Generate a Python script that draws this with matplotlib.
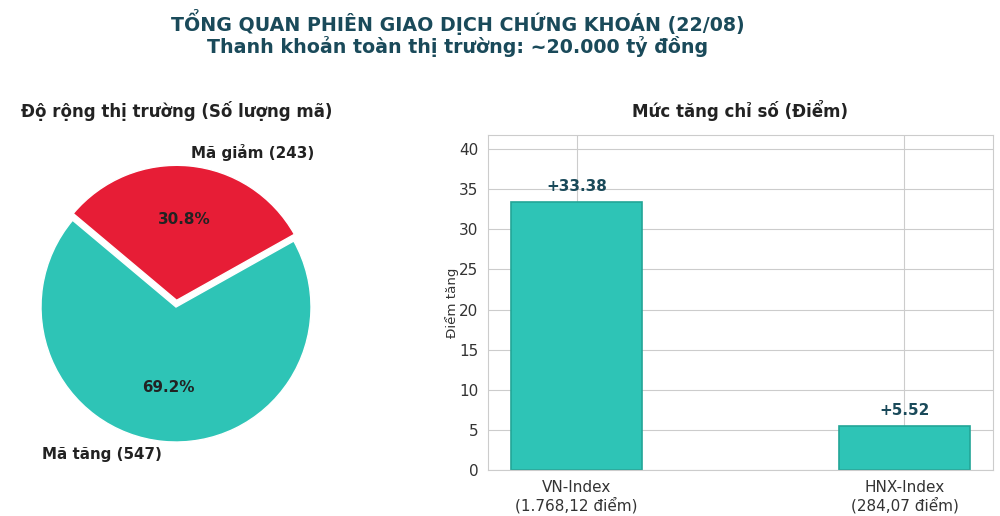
import matplotlib
matplotlib.use("Agg")
import matplotlib.pyplot as plt
import seaborn as sns

# data
breadth_labels = ["Mã tăng (547)", "Mã giảm (243)"]
breadth_counts = [547, 243]
index_names = ["VN-Index\n(1.768,12 điểm)", "HNX-Index\n(284,07 điểm)"]
index_gains = [33.38, 5.52]

TEAL = "#2EC4B6"
RED = "#E71D36"
NAVY = "#1a4a5a"

sns.set_style("whitegrid")
plt.rcParams['font.family'] = ['DejaVu Sans']

fig = plt.figure(figsize=(10, 5.16), dpi=100)

fig.text(0.458, 0.957, "TỔNG QUAN PHIÊN GIAO DỊCH CHỨNG KHOÁN (22/08)",
         ha='center', va='center', fontsize=13.7, fontweight='bold', color=NAVY)
fig.text(0.458, 0.910, "Thanh khoản toàn thị trường: ~20.000 tỷ đồng",
         ha='center', va='center', fontsize=13.7, fontweight='bold', color=NAVY)

# pie: market breadth
ax1 = fig.add_axes([0.00725, 0.078, 0.3375, 0.654])
ax1.pie(breadth_counts, labels=breadth_labels, colors=[TEAL, RED],
        explode=(0, 0.05), startangle=140, autopct='%1.1f%%',
        textprops=dict(fontsize=10.9, fontweight='bold', color='#222222'))
ax1.set_aspect('equal')
fig.text(0.177, 0.785, "Độ rộng thị trường (Số lượng mã)", ha='center', va='center',
         fontsize=12, fontweight='bold', color='#222222')

# bar: index gains
ax2 = fig.add_axes([0.488, 0.0891, 0.505, 0.649])
bars = ax2.bar(index_names, index_gains, width=0.4, color=TEAL,
               edgecolor='#23a597', linewidth=1.2)
ax2.set_ylim(0, max(index_gains) * 1.25)
ax2.set_ylabel("Điểm tăng", fontsize=9.6, color='#333333', labelpad=0)
ax2.tick_params(axis='both', labelsize=11, colors='#333333')
for b, v in zip(bars, index_gains):
    ax2.text(b.get_x() + b.get_width() / 2, v + 1.0, f"+{v:.2f}",
             ha='center', va='bottom', fontsize=11, fontweight='bold', color=NAVY)
ax2.set_axisbelow(True)
fig.text(0.740, 0.785, "Mức tăng chỉ số (Điểm)", ha='center', va='center',
         fontsize=12, fontweight='bold', color='#222222')

plt.savefig("out.png", dpi=100)
